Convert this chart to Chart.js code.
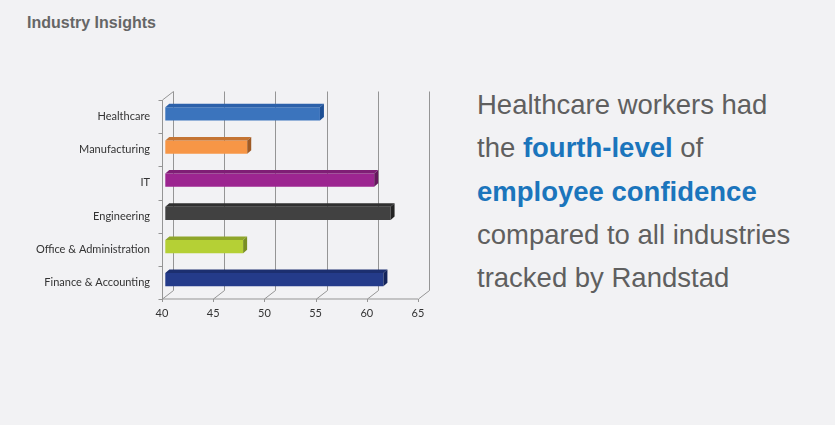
<!DOCTYPE html>
<html>
<head>
<meta charset="utf-8">
<script src="https://cdn.jsdelivr.net/npm/chart.js@4"></script>
<style>
  html, body { margin: 0; padding: 0; }
  body { width: 835px; height: 425px; background: #f2f2f4; position: relative; overflow: hidden; font-family: "Liberation Sans", Arial, sans-serif; }
  #title { position: absolute; left: 27px; top: 14px; font-size: 16px; line-height: 18px; font-weight: bold; color: #666666; }
  #wrap { position: absolute; left: 0; top: 0; width: 460px; height: 340px; }
  #note { position: absolute; left: 477px; top: 83px; font-size: 27.5px; line-height: 43.25px; color: #5f5f5f; white-space: nowrap; }
  #note b { color: #1b75bc; }
</style>
</head>
<body>
<div id="title">Industry Insights</div>
<div id="wrap"><canvas id="industries" width="460" height="340"></canvas></div>
<div id="note">Healthcare workers had<br>the <b>fourth-level</b> of<br><b>employee confidence</b><br>compared to all industries<br>tracked by Randstad</div>
<script>
const categories = ["Healthcare", "Manufacturing", "IT", "Engineering", "Office & Administration", "Finance & Accounting"];
const confidence = [55.1, 48.0, 60.4, 62.0, 47.6, 61.3];
const xTicks = [40, 45, 50, 55, 60, 65];

const frontColors = ["#3b74bd", "#f79646", "#9c2590", "#414141", "#b5d035", "#243b8a"];
const topColors = ["#2c61aa", "#c47433", "#7f1e75", "#303030", "#8fa62a", "#1c2f70"];
const sideColors = ["#1d4f94", "#9e5a25", "#65185d", "#232323", "#798f22", "#14245a"];

// fake excel-style 3d box: walls + bar depth
const DX = 11, DY = -8.5;      // depth of the whole plot box
const FX = 3.3, FY = -2.7;     // where the bar front sits inside the box
const BX = 4, BY = -3.5;       // depth of each bar

const box3d = {
  id: "box3d",
  beforeDatasetsDraw(chart) {
    const ctx = chart.ctx;
    const {left, right, top, bottom} = chart.chartArea;
    const xs = chart.scales.x;
    ctx.save();
    ctx.strokeStyle = "#959595";
    ctx.lineWidth = 1;
    ctx.beginPath();
    xTicks.forEach(v => {
      const x = Math.round(xs.getPixelForValue(v)) + 0.5;
      // back wall
      ctx.moveTo(x + DX, top + DY);
      ctx.lineTo(x + DX, bottom + DY);
      // floor
      ctx.moveTo(x, bottom);
      ctx.lineTo(x + DX, bottom + DY);
      // tick
      ctx.moveTo(x, bottom);
      ctx.lineTo(x, bottom + 3);
    });
    const l = Math.round(left) + 0.5;
    ctx.moveTo(l, top);
    ctx.lineTo(l, bottom);
    ctx.lineTo(right, bottom);
    ctx.moveTo(l, top);
    ctx.lineTo(l + DX, top + DY);
    const n = categories.length;
    for (let i = 0; i <= n; i++) {
      const y = Math.round(top + (bottom - top) * i / n) + 0.5;
      ctx.moveTo(l - 4, y);
      ctx.lineTo(l, y);
    }
    ctx.stroke();
    ctx.restore();

    ctx.save();
    ctx.translate(FX, FY);
  },
  afterDatasetsDraw(chart) {
    const ctx = chart.ctx;
    const meta = chart.getDatasetMeta(0);
    meta.data.forEach((bar, i) => {
      const p = bar.getProps(["x", "y", "base", "height"], true);
      const y0 = p.y - p.height / 2, y1 = p.y + p.height / 2;
      ctx.fillStyle = topColors[i];
      ctx.beginPath();
      ctx.moveTo(p.base, y0);
      ctx.lineTo(p.x, y0);
      ctx.lineTo(p.x + BX, y0 + BY);
      ctx.lineTo(p.base + BX, y0 + BY);
      ctx.closePath();
      ctx.fill();
      ctx.fillStyle = sideColors[i];
      ctx.beginPath();
      ctx.moveTo(p.x, y0);
      ctx.lineTo(p.x + BX, y0 + BY);
      ctx.lineTo(p.x + BX, y1 + BY);
      ctx.lineTo(p.x, y1);
      ctx.closePath();
      ctx.fill();
    });
    ctx.restore();
  }
};

const labelFont = {family: "Lato, 'Open Sans', sans-serif", size: 11};

new Chart(document.getElementById("industries"), {
  type: "bar",
  data: {
    labels: categories,
    datasets: [{
      data: confidence,
      base: 40,
      backgroundColor: frontColors,
      borderWidth: 0,
      barPercentage: 0.4,
      categoryPercentage: 1,
      clip: false
    }]
  },
  options: {
    indexAxis: "y",
    responsive: false,
    animation: false,
    layout: { padding: {top: 100, right: 42, left: 0, bottom: 0} },
    plugins: { legend: {display: false}, tooltip: {enabled: false} },
    scales: {
      x: {
        min: 40,
        max: 65,
        afterBuildTicks: scale => { scale.ticks = xTicks.map(v => ({value: v})); },
        afterFit: scale => { scale.height = 41; },
        grid: { display: false, drawTicks: false },
        border: { display: false },
        ticks: { color: "#333333", font: labelFont, padding: 8 }
      },
      y: {
        afterFit: scale => { scale.width = 162; },
        grid: { display: false, drawTicks: false },
        border: { display: false },
        ticks: { color: "#333333", font: labelFont, padding: 12 }
      }
    }
  },
  plugins: [box3d]
});
</script>
</body>
</html>
